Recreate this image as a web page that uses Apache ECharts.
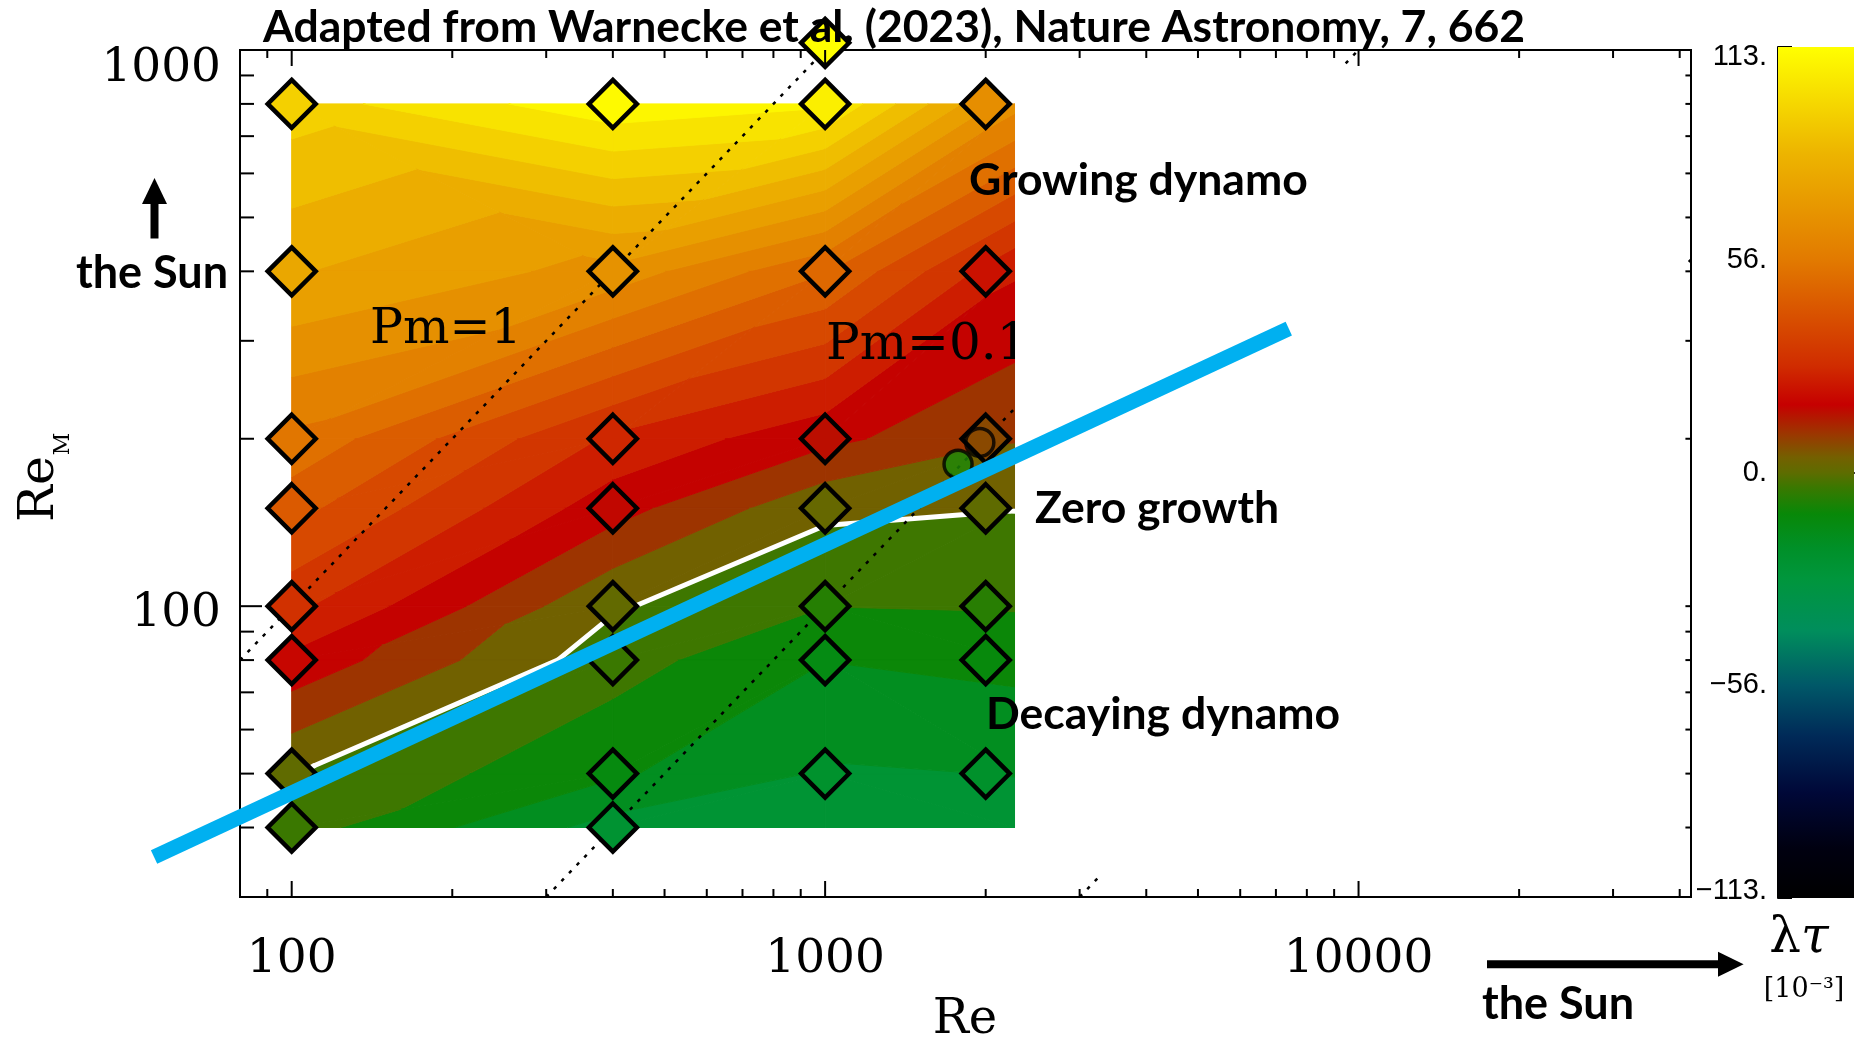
<!DOCTYPE html>
<html>
<head>
<meta charset="utf-8">
<title>Dynamo growth rate vs Re and ReM</title>
<script src="https://cdn.jsdelivr.net/npm/echarts@6/dist/echarts.min.js"></script>
<style>
  html, body { margin: 0; padding: 0; background: #fff; }
  #chart { width: 1857px; height: 1040px; }
</style>
</head>
<body>
<div id="chart"></div>
<script>
// ---------------- data ----------------
// axis ranges
const X_RANGE = [80, 42000];      // Re
const Y_RANGE = [30, 1000];       // Re_M
const CBAR_RANGE = [-113, 113];   // lambda tau [1e-3]

// simulation grid
const reCols = [100, 400, 1000, 2000];
const remRows = [800, 400, 200, 150, 100, 80, 50, 40];
// growth rate lambda*tau (1e-3) per Re column, listed top to bottom in Re_M
const growthRe100  = [95.4, 78.3, 54.9, 44.9, 30.0, 19.3, 0.3, -4];
const growthRe400  = [111, 68, 27, 17, 0.8, -4, -13, -24];
const growthRe1000 = [107, 50, 16, 1.5, -7, -14, -22, -25];
const growthRe2000 = [66, 22, 7.5, 0.2, -6.5, -12, -21, -24];
// how many of the rows above are actual runs (the rest only bound the field)
const runsPerColumn = [8, 8, 7, 7];
// mesh columns of the interpolated field (last one is its right edge)
const contourRe = [100, 400, 1000, 2270];

// run outside the main grid
const extraRunRe = [1000];
const extraRunRem = [1030];
const extraRunGrowth = [113];

// circled runs: open ring, filled dot
const markRe = [1950, 1775];
const markRem = [197, 180];

// magnetic Prandtl number guide lines
const pmValues = [1, 0.1, 0.01];
const pmLabels = ['Pm=1', 'Pm=0.1'];

// extrapolation towards the Sun
const sunLineRe = [55.2, 7400];
const sunLineRem = [35.4, 315.5];

// white panel behind the annotations (data extent)
const maskRe = [2270, 41000];
const maskRem = [33, 930];

// ticks
const xMajorTicks = [100, 1000, 10000];
const xMinorTicks = [90, 200, 300, 400, 500, 600, 700, 800, 900,
  2000, 3000, 4000, 5000, 6000, 7000, 8000, 9000, 20000, 30000, 40000];
const yMajorTicks = [100, 1000];
const yMinorTicks = [40, 50, 60, 70, 80, 90, 200, 300, 400, 500, 600, 700, 800, 900];

// colour table for lambda*tau
const cmapStops = [
  [-113, '#000000'], [-100, '#000010'], [-85, '#000838'], [-70, '#002a58'],
  [-56.5, '#005868'], [-42, '#008e5c'], [-28, '#00963c'], [-20, '#009028'],
  [-11, '#088808'], [-4, '#3a7800'], [0, '#5e6c00'], [4, '#746000'],
  [10, '#9a3800'], [18, '#c60000'], [28.25, '#d02c00'], [56.5, '#e27a00'],
  [85, '#edb500'], [113, '#ffff00']
];
const LEVEL_STEP = 113 / 16;

// ---------------- helpers ----------------
function hexToRgb(h) {
  return [parseInt(h.slice(1, 3), 16), parseInt(h.slice(3, 5), 16), parseInt(h.slice(5, 7), 16)];
}
function cmap(v) {
  const s = cmapStops;
  if (v <= s[0][0]) return s[0][1];
  if (v >= s[s.length - 1][0]) return s[s.length - 1][1];
  for (let i = 0; i < s.length - 1; i++) {
    if (v <= s[i + 1][0]) {
      const t = (v - s[i][0]) / (s[i + 1][0] - s[i][0]);
      const a = hexToRgb(s[i][1]), b = hexToRgb(s[i + 1][1]);
      return 'rgb(' + a.map((c, k) => Math.round(c + (b[k] - c) * t)).join(',') + ')';
    }
  }
}

// clip a polygon (vertices [lx, ly, value]) against value >= t or value <= t
function clipPoly(poly, t, keepAbove) {
  const out = [];
  for (let i = 0; i < poly.length; i++) {
    const a = poly[i], b = poly[(i + 1) % poly.length];
    const ina = keepAbove ? a[2] >= t : a[2] <= t;
    const inb = keepAbove ? b[2] >= t : b[2] <= t;
    if (ina) out.push(a);
    if (ina !== inb) {
      const s = (t - a[2]) / (b[2] - a[2]);
      out.push([a[0] + s * (b[0] - a[0]), a[1] + s * (b[1] - a[1]), t]);
    }
  }
  return out;
}

// ---------------- filled contours on a triangulated mesh (log-log space) ----------------
const growthCols = [growthRe100, growthRe400, growthRe1000, growthRe2000];
const nodes = contourRe.map((re, i) =>
  remRows.map((rem, j) => [Math.log10(re), Math.log10(rem), growthCols[i][j]]));

const triangles = [];
for (let i = 0; i < contourRe.length - 1; i++) {
  for (let j = 0; j < remRows.length - 1; j++) {
    const A = nodes[i][j], B = nodes[i + 1][j], C = nodes[i + 1][j + 1], D = nodes[i][j + 1];
    if (Math.abs(A[2] - C[2]) <= Math.abs(B[2] - D[2])) {
      triangles.push([A, B, C], [A, C, D]);
    } else {
      triangles.push([A, B, D], [B, C, D]);
    }
  }
}

const levels = [];
for (let k = -16; k <= 16; k++) levels.push(k * LEVEL_STEP);

const bandPolys = [];
const zeroSegs = [];
triangles.forEach(tri => {
  for (let k = 0; k < levels.length - 1; k++) {
    const lo = levels[k], hi = levels[k + 1];
    const poly = clipPoly(clipPoly(tri, lo, true), hi, false);
    if (poly.length >= 3) {
      bandPolys.push({
        pts: poly.map(p => [Math.pow(10, p[0]), Math.pow(10, p[1])]),
        color: cmap((lo + hi) / 2)
      });
    }
  }
  const cross = [];
  for (let e = 0; e < 3; e++) {
    const a = tri[e], b = tri[(e + 1) % 3];
    if (a[2] * b[2] < 0) {
      const s = a[2] / (a[2] - b[2]);
      cross.push([Math.pow(10, a[0] + s * (b[0] - a[0])), Math.pow(10, a[1] + s * (b[1] - a[1]))]);
    }
  }
  if (cross.length === 2) zeroSegs.push(cross);
});

// runs shown as diamonds
const runPoints = [];
reCols.forEach((re, i) => {
  for (let j = 0; j < runsPerColumn[i]; j++) runPoints.push([re, remRows[j], growthCols[i][j]]);
});
extraRunRe.forEach((re, i) => runPoints.push([re, extraRunRem[i], extraRunGrowth[i]]));

// ---------------- series ----------------
function tickSeries(values, side, len, z) {
  const isX = side === 'bottom' || side === 'top';
  return {
    type: 'custom', xAxisIndex: 0, yAxisIndex: 0, silent: true, z: z, clip: false,
    data: values.map(v => isX ? [v, side === 'bottom' ? Y_RANGE[0] : Y_RANGE[1]]
                               : [side === 'left' ? X_RANGE[0] : X_RANGE[1], v]),
    renderItem: (params, api) => {
      const p = api.coord([api.value(0), api.value(1)]);
      let q;
      if (side === 'bottom') q = [p[0], p[1] - len];
      else if (side === 'top') q = [p[0], p[1] + len];
      else if (side === 'left') q = [p[0] + len, p[1]];
      else q = [p[0] - len, p[1]];
      return { type: 'line', shape: { x1: p[0], y1: p[1], x2: q[0], y2: q[1] },
               style: { stroke: '#000', lineWidth: 2 } };
    }
  };
}

const series = [];

series.push({
  type: 'custom', name: 'growth field', xAxisIndex: 0, yAxisIndex: 0, z: 1, silent: true,
  data: bandPolys.map(p => p.pts[0]),
  renderItem: (params, api) => {
    const poly = bandPolys[params.dataIndex];
    return {
      type: 'polygon',
      shape: { points: poly.pts.map(p => api.coord(p)) },
      style: { fill: poly.color, stroke: poly.color, lineWidth: 1, lineJoin: 'round' }
    };
  }
});

series.push({
  type: 'custom', name: 'zero growth', xAxisIndex: 0, yAxisIndex: 0, z: 2, silent: true,
  data: zeroSegs.map(s => s[0]),
  renderItem: (params, api) => {
    const s = zeroSegs[params.dataIndex];
    const a = api.coord(s[0]), b = api.coord(s[1]);
    return { type: 'line', shape: { x1: a[0], y1: a[1], x2: b[0], y2: b[1] },
             style: { stroke: '#ffffff', lineWidth: 5, lineCap: 'round' } };
  }
});

pmValues.forEach(pm => {
  const re0 = Math.max(X_RANGE[0], Y_RANGE[0] / pm);
  const re1 = Math.min(X_RANGE[1], Y_RANGE[1] / pm);
  series.push({
    type: 'line', name: 'Pm=' + pm, xAxisIndex: 0, yAxisIndex: 0, z: 3, silent: true,
    symbol: 'none', clip: true, animation: false,
    data: [[re0, re0 * pm], [re1, re1 * pm]],
    lineStyle: { color: '#000', width: 2.5, type: [3.5, 7.5] }
  });
});

series.push({
  type: 'scatter', name: 'runs', xAxisIndex: 0, yAxisIndex: 0, z: 4, silent: true, clip: false,
  symbol: 'diamond', symbolSize: 48,
  data: runPoints,
  itemStyle: { color: p => cmap(p.value[2]), borderColor: '#000', borderWidth: 4.5, opacity: 1 }
});

series.push({
  type: 'scatter', name: 'marked runs', xAxisIndex: 0, yAxisIndex: 0, z: 5, silent: true, clip: false,
  symbol: 'circle', symbolSize: 28,
  data: [
    { value: [markRe[0], markRem[0]], itemStyle: { color: 'rgba(0,0,0,0)', borderColor: '#000', borderWidth: 3.5 } },
    { value: [markRe[1], markRem[1]], itemStyle: { color: '#1b8a08', borderColor: '#000', borderWidth: 3.5 } }
  ]
});

series.push(tickSeries(xMajorTicks, 'bottom', 16, 5.5));
series.push(tickSeries(xMinorTicks, 'bottom', 8, 5.5));
series.push(tickSeries(xMajorTicks, 'top', 16, 5.5));
series.push(tickSeries(xMinorTicks, 'top', 8, 5.5));
series.push(tickSeries(yMajorTicks, 'left', 22, 5.5));
series.push(tickSeries(yMinorTicks, 'left', 14, 5.5));
series.push(tickSeries(yMajorTicks, 'right', 22, 5.5));
series.push(tickSeries(yMinorTicks, 'right', 14, 5.5));

series.push({
  type: 'custom', name: 'panel', xAxisIndex: 0, yAxisIndex: 0, z: 6, silent: true, clip: false,
  data: [[maskRe[0], maskRem[0]]],
  renderItem: (params, api) => {
    const p0 = api.coord([maskRe[0], maskRem[1]]);
    const p1 = api.coord([maskRe[1], maskRem[0]]);
    return { type: 'rect', shape: { x: p0[0], y: p0[1], width: p1[0] - p0[0], height: p1[1] - p0[1] },
             style: { fill: '#ffffff' } };
  }
});

// straight extrapolation line, allowed to run past the frame
series.push({
  type: 'custom', name: 'towards the Sun', xAxisIndex: 0, yAxisIndex: 0, z: 7, silent: true, clip: false,
  data: [[sunLineRe[0], sunLineRem[0]]],
  renderItem: (params, api) => {
    const a = api.coord([sunLineRe[0], sunLineRem[0]]);
    const b = api.coord([sunLineRe[1], sunLineRem[1]]);
    return { type: 'line', shape: { x1: a[0], y1: a[1], x2: b[0], y2: b[1] },
             style: { stroke: '#00b0f0', lineWidth: 15, lineCap: 'butt' } };
  }
});

// colour bar
series.push({
  type: 'custom', name: 'colour bar', xAxisIndex: 1, yAxisIndex: 1, z: 1, silent: true,
  data: [[0, CBAR_RANGE[1]]],
  renderItem: (params, api) => {
    const p0 = api.coord([0, CBAR_RANGE[1]]);
    const p1 = api.coord([1, CBAR_RANGE[0]]);
    const stops = cmapStops.map(s => ({ offset: (CBAR_RANGE[1] - s[0]) / (CBAR_RANGE[1] - CBAR_RANGE[0]), color: s[1] }))
      .sort((a, b) => a.offset - b.offset);
    return { type: 'rect', shape: { x: p0[0], y: p0[1], width: p1[0] - p0[0], height: p1[1] - p0[1] },
             style: { fill: new echarts.graphic.LinearGradient(0, 0, 0, 1, stops) } };
  }
});

// ---------------- text ----------------
const SERIF = '"DejaVu Serif", "Liberation Serif", serif';
const SANS_B = 'bold 44.5px Lato, "Open Sans", sans-serif';
const SUN_B = 'bold 45px Lato, "Open Sans", sans-serif';
const CB_FONT = '"Liberation Sans", Arial, sans-serif';
function txt(text, x, y, font, align, z, extra) {
  return Object.assign({
    type: 'text', x: x, y: y, z: z, silent: true,
    style: { text: text, font: font, fill: '#000', textAlign: align, textVerticalAlign: 'middle',
             align: align, verticalAlign: 'middle' }
  }, extra || {});
}

const graphic = [
  txt('Adapted from Warnecke et al. (2023), Nature Astronomy, 7, 662', 263, 28, SANS_B, 'left', 10),
  txt('Growing dynamo', 969, 181, SANS_B, 'left', 10),
  txt('Zero growth', 1035, 509, SANS_B, 'left', 10),
  txt('Decaying dynamo', 986, 715, SANS_B, 'left', 10),
  txt('the Sun', 76, 273, SUN_B, 'left', 10),
  txt('the Sun', 1482, 1004, SUN_B, 'left', 10),
  txt(pmLabels[0], 370, 330, '49px ' + SERIF, 'left', 3.5),
  txt(pmLabels[1], 826, 346, '50px ' + SERIF, 'left', 3.5),
  txt('Re', 965, 1021, '48px ' + SERIF, 'center', 10),
  txt('Re', 40, 489, '49px ' + SERIF, 'center', 10, { rotation: Math.PI / 2 }),
  txt('M', 63, 444, '22px ' + SERIF, 'center', 10, { rotation: Math.PI / 2 }),
  {
    type: 'text', x: 1799, y: 939, z: 10, silent: true,
    style: { text: '{a|λ}{b|τ}', textAlign: 'center', textVerticalAlign: 'middle', align: 'center', verticalAlign: 'middle',
             rich: { a: { font: '50px ' + SERIF, fill: '#000', color: '#000' },
                     b: { font: 'italic 50px ' + SERIF, fill: '#000', color: '#000' } } }
  },
  txt('[10⁻³]', 1804, 990, '27px ' + SERIF, 'center', 10),
  // arrows
  { type: 'polygon', z: 10, silent: true, shape: { points: [[142, 204], [167, 204], [154.5, 178]] }, style: { fill: '#000' } },
  { type: 'rect', z: 10, silent: true, shape: { x: 150.5, y: 203, width: 8, height: 35.5 }, style: { fill: '#000' } },
  { type: 'rect', z: 10, silent: true, shape: { x: 1487, y: 960.3, width: 232, height: 8 }, style: { fill: '#000' } },
  { type: 'polygon', z: 10, silent: true, shape: { points: [[1718, 951.7], [1718, 976.7], [1743.6, 964.3]] }, style: { fill: '#000' } }
];

// ---------------- option ----------------
const axisLineStyle = { show: true, lineStyle: { color: '#000', width: 2 } };

const option = {
  animation: false,
  backgroundColor: '#ffffff',
  grid: [
    { left: 240, top: 50, width: 1451, height: 847, containLabel: false, outerBoundsMode: 'none',
      show: true, borderColor: '#000', borderWidth: 2, backgroundColor: 'rgba(0,0,0,0)' },
    { left: 1778, top: 47, width: 76, height: 851, containLabel: false, outerBoundsMode: 'none' }
  ],
  xAxis: [
    {
      type: 'log', logBase: 10, gridIndex: 0, min: X_RANGE[0], max: X_RANGE[1],
      axisLine: axisLineStyle, axisTick: { show: false }, minorTick: { show: false },
      splitLine: { show: false }, minorSplitLine: { show: false },
      axisLabel: {
        show: true, margin: 39, color: '#000', fontFamily: SERIF, fontSize: 47,
        showMinLabel: false, showMaxLabel: false, hideOverlap: false,
        formatter: v => { const r = Math.round(v); return xMajorTicks.indexOf(r) >= 0 ? String(r) : ''; }
      }
    },
    {
      type: 'value', gridIndex: 1, min: 0, max: 1, position: 'top',
      axisLine: axisLineStyle, axisTick: { show: false }, axisLabel: { show: false }, splitLine: { show: false }
    }
  ],
  yAxis: [
    {
      type: 'log', logBase: 10, gridIndex: 0, min: Y_RANGE[0], max: Y_RANGE[1],
      axisLine: axisLineStyle, axisTick: { show: false }, minorTick: { show: false },
      splitLine: { show: false }, minorSplitLine: { show: false },
      axisLabel: {
        show: true, margin: 19, color: '#000', fontFamily: SERIF, fontSize: 47,
        showMinLabel: false, showMaxLabel: true, hideOverlap: false,
        formatter: v => {
          const r = Math.round(v);
          if (yMajorTicks.indexOf(r) < 0) return '';
          return (r === Y_RANGE[1] ? '{top|' : '{n|') + r + '}';
        },
        rich: {
          top: { fontFamily: SERIF, fontSize: 47, color: '#000', padding: [38, 0, 0, 0] },
          n: { fontFamily: SERIF, fontSize: 47, color: '#000', padding: [15, 0, 0, 0] }
        }
      }
    },
    {
      type: 'value', gridIndex: 1, min: CBAR_RANGE[0], max: CBAR_RANGE[1], interval: 28.25, position: 'left',
      axisLine: axisLineStyle,
      axisTick: { show: true, inside: true, length: 14, lineStyle: { color: '#000', width: 2 } },
      splitLine: { show: false },
      axisLabel: {
        show: true, margin: 11, color: '#000', fontFamily: CB_FONT, fontSize: 29,
        showMinLabel: true, showMaxLabel: true, hideOverlap: false,
        formatter: v => {
          const r = Math.round(v * 100) / 100;
          const a = Math.abs(r);
          if (Math.abs(a - 28.25) < 0.01 || Math.abs(a - 84.75) < 0.01) return '';
          const s = (r < 0 ? '\u2212' : '') + Math.trunc(a) + '.';
          if (r >= CBAR_RANGE[1]) return '{t|' + s + '}';
          if (r <= CBAR_RANGE[0]) return '{b|' + s + '}';
          return s;
        },
        rich: {
          t: { fontFamily: CB_FONT, fontSize: 29, color: '#000', padding: [19, 0, 0, 0] },
          b: { fontFamily: CB_FONT, fontSize: 29, color: '#000', padding: [0, 0, 14, 0] }
        }
      }
    }
  ],
  series: series,
  graphic: { elements: graphic }
};

const chart = echarts.init(document.getElementById('chart'), null, { renderer: 'canvas' });
chart.setOption(option);
</script>
</body>
</html>
